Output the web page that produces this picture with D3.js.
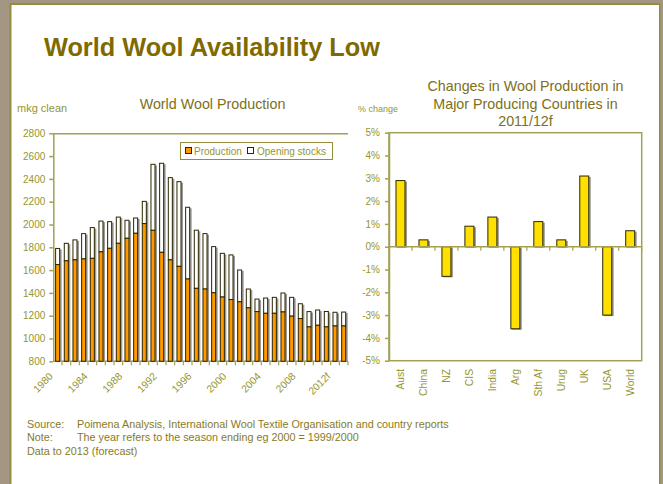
<!DOCTYPE html>
<html><head><meta charset="utf-8">
<script src="https://cdn.jsdelivr.net/npm/d3@7"></script>
<style>
html,body{margin:0;padding:0;background:#fff;}
svg{display:block;font-family:"Liberation Sans",Arial,sans-serif;}
</style></head><body>
<svg id="c" width="663" height="484"></svg>
<script>
// ---- data ----
const years = ["1980","1981","1982","1983","1984","1985","1986","1987","1988","1989",
  "1990","1991","1992","1993","1994","1995","1996","1997","1998","1999",
  "2000","2001","2002","2003","2004","2005","2006","2007","2008","2009",
  "2010","2011","2012","2013"];
const production = [1648,1682,1690,1698,1703,1760,1791,1835,1879,1923,
  2008,1949,1756,1690,1633,1522,1440,1434,1401,1364,
  1342,1322,1269,1236,1221,1221,1233,1196,1175,1102,
  1116,1102,1110,1110];
const openingStocks = [142,153,175,222,270,270,234,230,158,134,
  195,579,781,721,743,629,510,486,405,383,
  391,279,165,110,134,140,166,165,130,134,
  134,135,120,122];
const yearTickYears = ["1980","1984","1988","1992","1996","2000","2004","2008","2012"];
const yearTickLabels = ["1980","1984","1988","1992","1996","2000","2004","2008","2012f"];
const leftTicks = [800,1000,1200,1400,1600,1800,2000,2200,2400,2600,2800];

const countries = ["Aust","China","NZ","CIS","India","Arg","Sth Af","Urug","UK","USA","World"];
const changes = [2.9,0.3,-1.3,0.9,1.3,-3.6,1.1,0.3,3.1,-3.0,0.7];
const rightTicks = [-5,-4,-3,-2,-1,0,1,2,3,4,5];

// ---- styles ----
const C = {
  frameBg:"#a39784", frameLine:"#958d3b", title:"#7f6a00", subTitle:"#7d7019",
  tick:"#959530", axis:"#a3a052", barStroke:"#2b2600", shadow:"#9a9a9a",
  orange:"#ff9900", yellow:"#ffe000", footer:"#877a25"
};

const svg = d3.select("#c");
// page frame
svg.append("rect").attr("x",0).attr("y",0).attr("width",663).attr("height",484).attr("fill",C.frameBg);
svg.append("rect").attr("x",9.5).attr("y",3).attr("width",651).attr("height",490).attr("fill",C.frameLine);
svg.append("rect").attr("x",11.5).attr("y",5).attr("width",647.5).attr("height",490).attr("fill","#fff");

svg.append("text").attr("x",44).attr("y",56).attr("font-size",25.3).attr("font-weight","bold")
  .attr("fill",C.title).text("World Wool Availability Low");

// ================= LEFT CHART =================
const L = {x0:53.3, x1:348, y0:133.3, y1:361.3};
const x = d3.scaleBand().domain(years).range([L.x0,L.x1]).paddingInner(0.42).paddingOuter(0.21);
const y = d3.scaleLinear().domain([800,2800]).range([L.y1,L.y0]);

svg.append("text").attr("x",17).attr("y",112).attr("font-size",11).attr("fill",C.tick).text("mkg clean");
svg.append("text").attr("x",212.5).attr("y",109).attr("text-anchor","middle").attr("font-size",14.3)
  .attr("fill",C.subTitle).text("World Wool Production");

// plot frame top
svg.append("line").attr("x1",L.x0).attr("x2",L.x1).attr("y1",L.y0+0.5).attr("y2",L.y0+0.5)
  .attr("stroke",C.axis).attr("stroke-width",1.5);

const gy = svg.append("g").attr("transform",`translate(${L.x0},0)`)
  .call(d3.axisLeft(y).tickValues(leftTicks).tickSize(4).tickSizeOuter(0).tickPadding(4).tickFormat(d3.format("d")));
gy.selectAll("text").attr("font-size",10).attr("fill",C.tick).attr("font-family","Liberation Sans, Arial, sans-serif");
gy.selectAll("line,path").attr("stroke",C.axis).attr("stroke-width",1.5);

// bottom axis line + boundary ticks
svg.append("line").attr("x1",L.x0).attr("x2",L.x1).attr("y1",L.y1).attr("y2",L.y1).attr("stroke",C.axis).attr("stroke-width",1.5);
const step = x.step();
svg.append("g").selectAll("line").data(years).join("line")
  .attr("x1",d=>x(d)-step*0.21+step).attr("x2",d=>x(d)-step*0.21+step)
  .attr("y1",L.y1).attr("y2",L.y1+4).attr("stroke",C.axis).attr("stroke-width",1.2);

const bars = svg.append("g");
years.forEach((yr,i)=>{
  const bx = x(yr), bw = x.bandwidth();
  const top = y(production[i]+openingStocks[i]), mid = y(production[i]);
  bars.append("rect").attr("x",bx+1.5).attr("y",top+1).attr("width",bw).attr("height",L.y1-top-1).attr("fill",C.shadow);
  bars.append("rect").attr("x",bx+0.5).attr("y",top).attr("width",bw-1).attr("height",mid-top)
    .attr("fill","#fff").attr("stroke",C.barStroke).attr("stroke-width",1);
  bars.append("rect").attr("x",bx+0.5).attr("y",mid).attr("width",bw-1).attr("height",L.y1-mid)
    .attr("fill",C.orange).attr("stroke",C.barStroke).attr("stroke-width",1);
});

svg.append("g").selectAll("text").data(yearTickYears).join("text")
  .attr("transform",d=>`translate(${x(d)+x.bandwidth()/2-4},377) rotate(-45)`)
  .attr("text-anchor","end").attr("font-size",10.3).attr("fill",C.tick)
  .text((d,i)=>yearTickLabels[i]);

// legend
const lg = svg.append("g");
lg.append("rect").attr("x",180.5).attr("y",142.5).attr("width",152).attr("height",17)
  .attr("fill","#fff").attr("stroke",C.frameLine).attr("stroke-width",1);
lg.append("rect").attr("x",185.5).attr("y",147.5).attr("width",6).attr("height",6).attr("fill",C.orange).attr("stroke",C.barStroke);
lg.append("text").attr("x",194).attr("y",155).attr("font-size",10).attr("fill",C.tick).text("Production");
lg.append("rect").attr("x",247.5).attr("y",147.5).attr("width",6).attr("height",6).attr("fill","#fff").attr("stroke",C.barStroke);
lg.append("text").attr("x",257).attr("y",155).attr("font-size",10).attr("fill",C.tick).text("Opening stocks");

// ================= RIGHT CHART =================
const R = {x0:389, x1:641.7, y0:132.7, y1:360.7};
const xr = d3.scaleBand().domain(countries).range([R.x0,R.x1]).paddingInner(0.565).paddingOuter(0.2825);
const yr = d3.scaleLinear().domain([-5,5]).range([R.y1,R.y0]);

svg.append("text").attr("x",358).attr("y",112).attr("font-size",9).attr("fill",C.tick).text("% change");
const rt = svg.append("text").attr("text-anchor","middle").attr("font-size",14.3).attr("fill",C.subTitle);
["Changes in Wool Production in","Major Producing Countries in","2011/12f"].forEach((t,i)=>{
  rt.append("tspan").attr("x",525.5).attr("y",91+i*17.5).text(t);
});

// frame
svg.append("rect").attr("x",R.x0).attr("y",R.y0).attr("width",R.x1-R.x0).attr("height",R.y1-R.y0)
  .attr("fill","none").attr("stroke",C.axis).attr("stroke-width",1.5);
const gyr = svg.append("g").attr("transform",`translate(${R.x0},0)`)
  .call(d3.axisLeft(yr).tickValues(rightTicks).tickSize(4).tickSizeOuter(0).tickPadding(5).tickFormat(d=>d+"%"));
gyr.selectAll("text").attr("font-size",10).attr("fill",C.tick).attr("font-family","Liberation Sans, Arial, sans-serif");
gyr.selectAll("line,path").attr("stroke",C.axis).attr("stroke-width",1.5);

const stepR = xr.step();
const rb = svg.append("g");
countries.forEach((c,i)=>{
  const bx = xr(c), bw = xr.bandwidth();
  const y0 = yr(Math.max(0,changes[i])), y1 = yr(Math.min(0,changes[i]));
  rb.append("rect").attr("x",bx+1.5).attr("y",y0+1).attr("width",bw).attr("height",y1-y0).attr("fill",C.shadow);
  rb.append("rect").attr("x",bx+0.5).attr("y",y0).attr("width",bw-1).attr("height",y1-y0)
    .attr("fill",C.yellow).attr("stroke",C.barStroke).attr("stroke-width",1);
});
// zero axis
svg.append("line").attr("x1",R.x0).attr("x2",R.x1).attr("y1",yr(0)).attr("y2",yr(0)).attr("stroke",C.axis).attr("stroke-width",1.5);
svg.append("g").selectAll("line").data(countries).join("line")
  .attr("x1",d=>xr(d)-stepR*0.2825+stepR).attr("x2",d=>xr(d)-stepR*0.2825+stepR)
  .attr("y1",yr(0)).attr("y2",yr(0)+4).attr("stroke",C.axis).attr("stroke-width",1.2);

svg.append("g").selectAll("text").data(countries).join("text")
  .attr("transform",d=>`translate(${xr(d)+xr.bandwidth()/2},369) rotate(-90)`)
  .attr("text-anchor","end").attr("dy","0.35em").attr("font-size",10.3).attr("fill",C.tick).text(d=>d);

// ================= FOOTER =================
const ft = svg.append("g").attr("font-size",10.8).attr("fill",C.footer);
ft.append("text").attr("x",27).attr("y",428).text("Source:");
ft.append("text").attr("x",77).attr("y",428).text("Poimena Analysis, International Wool Textile Organisation and country reports");
ft.append("text").attr("x",27).attr("y",441).text("Note:");
ft.append("text").attr("x",77).attr("y",441).text("The year refers to the season ending eg 2000 = 1999/2000");
ft.append("text").attr("x",27).attr("y",455).text("Data to 2013 (forecast)");
</script>
</body></html>
